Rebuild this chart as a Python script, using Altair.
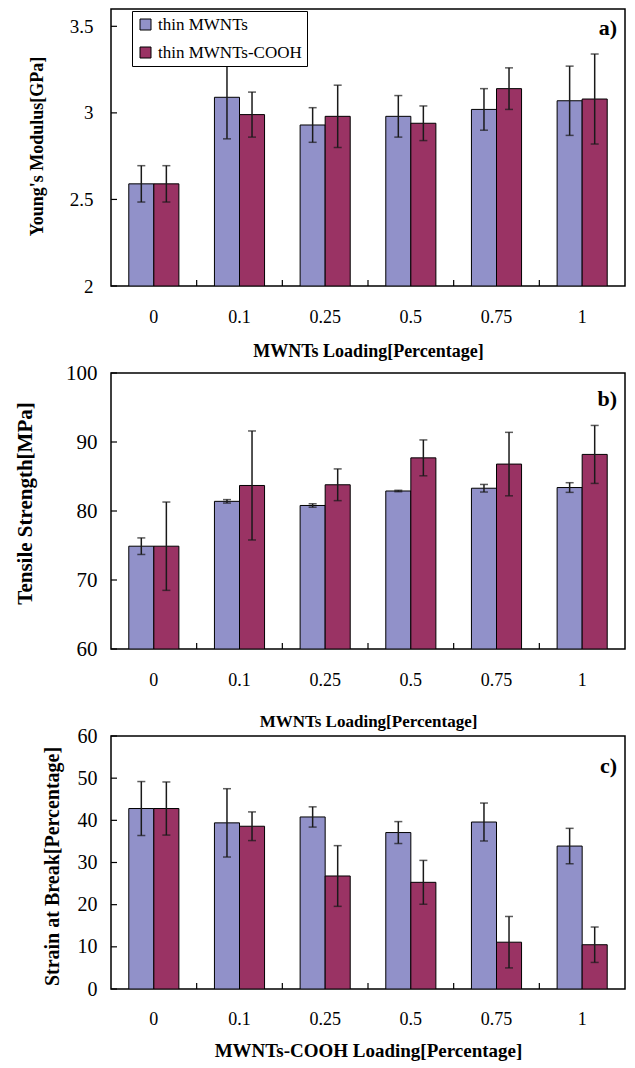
import altair as alt
import pandas as pd

categories = ["0", "0.1", "0.25", "0.5", "0.75", "1"]
series = ["thin MWNTs", "thin MWNTs-COOH"]
colors = ["#9191C9", "#9A3364"]
panel_labels = ["a)", "b)", "c)"]

young_thin = [2.59, 3.09, 2.93, 2.98, 3.02, 3.07]
young_thin_err = [0.105, 0.24, 0.10, 0.12, 0.12, 0.20]
young_cooh = [2.59, 2.99, 2.98, 2.94, 3.14, 3.08]
young_cooh_err = [0.105, 0.13, 0.18, 0.10, 0.12, 0.26]

tensile_thin = [74.9, 81.4, 80.8, 82.9, 83.3, 83.4]
tensile_thin_err = [1.2, 0.25, 0.25, 0.1, 0.55, 0.7]
tensile_cooh = [74.9, 83.7, 83.8, 87.7, 86.8, 88.2]
tensile_cooh_err = [6.4, 7.9, 2.3, 2.6, 4.6, 4.2]

strain_thin = [42.8, 39.4, 40.8, 37.1, 39.6, 33.9]
strain_thin_err = [6.4, 8.1, 2.4, 2.6, 4.5, 4.2]
strain_cooh = [42.8, 38.6, 26.8, 25.3, 11.1, 10.5]
strain_cooh_err = [6.3, 3.4, 7.2, 5.2, 6.1, 4.2]

young_ticks = [2, 2.5, 3, 3.5]
tensile_ticks = [60, 70, 80, 90, 100]
strain_ticks = [0, 10, 20, 30, 40, 50, 60]

SERIF = "Liberation Serif"
W = 514


def panel(thin, thin_err, cooh, cooh_err, domain, ticks, ytitle, xtitle, label,
          h, ytx, yty, yts, yls, ylp, xts, xlp, xtp, lab_y, show_legend):
    rows = []
    for i, c in enumerate(categories):
        rows.append(dict(cat=c, series=series[0], value=thin[i], err=thin_err[i]))
        rows.append(dict(cat=c, series=series[1], value=cooh[i], err=cooh_err[i]))
    df = pd.DataFrame(rows)
    yscale = alt.Scale(domain=domain, nice=False, zero=False)
    xscale = alt.Scale(domain=categories, paddingInner=0, paddingOuter=0)
    oscale = alt.Scale(domain=series, paddingInner=0, paddingOuter=0.71)

    xaxis = alt.Axis(title=xtitle, labelAngle=0, ticks=False, tickSize=0, domain=False,
                     labelPadding=xlp, labelFontSize=18, labelFont=SERIF, labelColor="black",
                     titleFont=SERIF, titleColor="black", titleFontSize=xts,
                     titlePadding=xtp, titleFontWeight="bold", grid=False)
    yaxis = alt.Axis(title=ytitle, values=ticks, format=".1~f", ticks=False, tickSize=0,
                     domain=False, grid=False, labelPadding=ylp, labelFontSize=yls,
                     labelFont=SERIF, labelColor="black", titleFont=SERIF, titleColor="black",
                     titleFontSize=yts, titleFontWeight="bold", titleX=ytx, titleY=yty,
                     titleBaseline="middle", titleAlign="center")
    if show_legend:
        legend = alt.Legend(title=None, orient="none", legendX=21, legendY=2,
                            direction="vertical", fillColor="white", strokeColor="black",
                            padding=5, symbolType="square", symbolSize=121,
                            symbolStrokeColor="black", symbolStrokeWidth=1,
                            symbolOpacity=1, labelFont=SERIF, labelFontSize=17,
                            labelColor="black", rowPadding=10, labelOffset=4,
                            labelLimit=300)
    else:
        legend = None

    def X(field="cat:N", **kw):
        return alt.X(field, scale=xscale, axis=xaxis, title=xtitle, **kw)

    def Y(field):
        return alt.Y(field, scale=yscale, axis=yaxis, title=ytitle)

    off = alt.XOffset("series:N", scale=oscale)

    base = alt.Chart(df)
    bars = base.mark_bar(stroke="black", strokeWidth=1, clip=True).encode(
        x=X(), xOffset=off, y=Y("value:Q"), y2=alt.datum(domain[0]),
        color=alt.Color("series:N", scale=alt.Scale(domain=series, range=colors), legend=legend),
    )
    eb = base.transform_calculate(lo="datum.value - datum.err", hi="datum.value + datum.err")
    rule = eb.mark_rule(color="#1a1a1a", strokeWidth=1.5).encode(
        x=X(), xOffset=off, y=Y("lo:Q"), y2="hi:Q",
    )
    cap_lo = eb.mark_tick(color="#1a1a1a", orient="horizontal", size=8, thickness=1.5).encode(
        x=X(), xOffset=off, y=Y("lo:Q"),
    )
    cap_hi = eb.mark_tick(color="#1a1a1a", orient="horizontal", size=8, thickness=1.5).encode(
        x=X(), xOffset=off, y=Y("hi:Q"),
    )
    ytick = alt.Chart(pd.DataFrame({"v": ticks})).mark_rule(color="black", strokeWidth=1.2).encode(
        y=Y("v:Q"), x=alt.value(0), x2=alt.value(6),
    )
    xtick = alt.Chart(pd.DataFrame({"cat": categories[:-1]})).mark_rule(color="black", strokeWidth=1.2).encode(
        x=X(bandPosition=1), y=alt.value(h), y2=alt.value(h - 6),
    )
    lab = alt.Chart(pd.DataFrame({"t": [label]})).mark_text(
        font=SERIF, fontSize=22, fontWeight="bold", align="right", baseline="middle", color="black"
    ).encode(text="t:N", x=alt.value(W - 8), y=alt.value(lab_y))

    return alt.layer(bars, rule, cap_lo, cap_hi, ytick, xtick, lab).properties(
        width=W, height=h, view=alt.ViewBackground(stroke="black", strokeWidth=1.5)
    )


pa = panel(young_thin, young_thin_err, young_cooh, young_cooh_err, [2, 3.6], young_ticks,
           "Young's Modulus[GPa]", "MWNTs Loading[Percentage]", panel_labels[0],
           277, -74, 137, 18, 19, 18, 18, 22, 16, 19, True)
pb = panel(tensile_thin, tensile_thin_err, tensile_cooh, tensile_cooh_err, [60, 100], tensile_ticks,
           "Tensile Strength[MPa]", "MWNTs Loading[Percentage]", panel_labels[1],
           276, -86, 130, 21, 21, 14, 17, 22, 24, 26, False)
pc = panel(strain_thin, strain_thin_err, strain_cooh, strain_cooh_err, [0, 60], strain_ticks,
           "Strain at Break[Percentage]", "MWNTs-COOH Loading[Percentage]", panel_labels[2],
           253, -59, 130, 20, 20, 14, 19, 21, 13, 30, False)

chart = alt.vconcat(pa, pb, pc, spacing=87, bounds="flush").resolve_scale(
    color="independent"
).properties(
    padding={"left": 5, "top": 0, "right": 0, "bottom": 0},
    background="white",
).configure_view(
    stroke="black", strokeWidth=1.5
)

chart.save("out.html", embed_options={"renderer": "svg", "actions": False})
